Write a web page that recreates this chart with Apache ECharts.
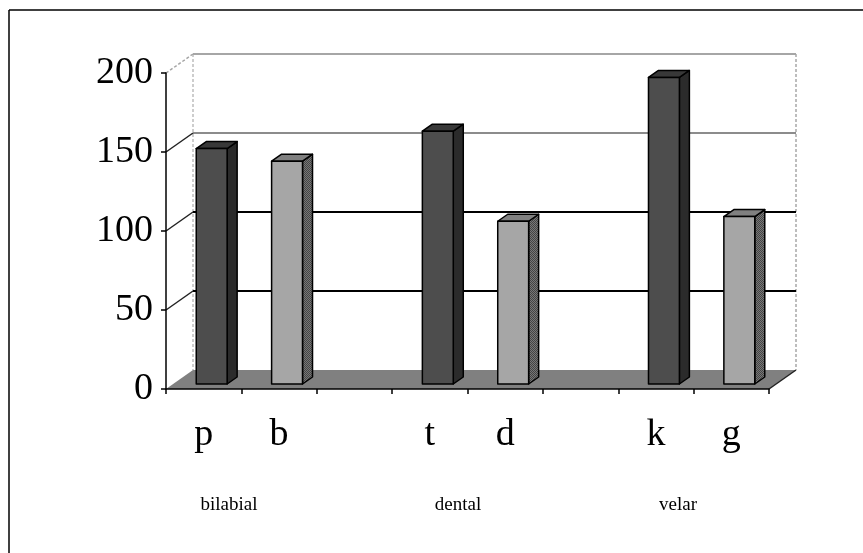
<!DOCTYPE html>
<html>
<head>
<meta charset="utf-8">
<style>
  html, body { margin: 0; padding: 0; background: #fff; }
  #chart { width: 863px; height: 553px; }
</style>
<script src="https://cdn.jsdelivr.net/npm/echarts@6/dist/echarts.min.js"></script>
</head>
<body>
<div id="chart"></div>
<script>
  // blank categories are the gaps between the three groups
  var categories = ['p', 'b', '', 't', 'd', '', 'k', 'g'];
  var voicelessIdx = [0, 3, 6];
  var voicelessVals = [149, 160, 194];
  var voicedIdx = [1, 4, 7];
  var voicedVals = [141, 103, 106];
  var yTicks = [0, 50, 100, 150, 200];
  var groupNames = ['bilabial', 'dental', 'velar'];

  var DX = 27, DY = -19;       // depth of the box
  var BAR_DX = 8, BAR_DY = -5; // bars stand a little behind the front edge
  var SIDE_DX = 10, SIDE_DY = -7;
  var FONT = '"Liberation Serif", serif';

  function dither(a, b) {
    var c = document.createElement('canvas');
    c.width = 2; c.height = 2;
    var g = c.getContext('2d');
    g.fillStyle = a; g.fillRect(0, 0, 2, 2);
    g.fillStyle = b; g.fillRect(0, 0, 1, 1); g.fillRect(1, 1, 1, 1);
    return c;
  }

  function line(x1, y1, x2, y2, color, width, dash) {
    return {
      type: 'line',
      shape: { x1: x1, y1: y1, x2: x2, y2: y2 },
      style: { stroke: color, lineWidth: width, lineDash: dash || null }
    };
  }

  function renderBox(params, api) {
    var v = api.value(1);
    var cs = params.coordSys;
    var y = api.coord([0, v])[1];
    var left = cs.x, right = cs.x + cs.width;
    var kids = [];
    if (v === 0) {
      kids.push({
        type: 'polygon',
        shape: { points: [[left, y], [left + DX, y + DY], [right + DX, y + DY], [right, y]] },
        style: { fill: '#808080' }
      });
      kids.push(line(right, y, right + DX, y + DY, '#222', 1.5));
      kids.push(line(left + DX, cs.y + DY, left + DX, y + DY, '#bdbdbd', 1.5, [3, 2]));
      kids.push(line(right + DX, cs.y + DY, right + DX, y + DY, '#a8a8a8', 1.5, [3, 2]));
    } else {
      var color = v === 200 ? '#a6a6a6' : v === 150 ? '#666' : '#000';
      var width = v === 200 ? 2 : v === 150 ? 1.5 : 2;
      kids.push(line(left + DX, y + DY, right + DX, y + DY, color, width));
      kids.push(line(left, y, left + DX, y + DY, v === 200 ? '#a6a6a6' : '#222', 1.5, v === 200 ? [3, 2] : null));
    }
    return { type: 'group', children: kids };
  }

  function barRenderer(front, top, side) {
    return function (params, api) {
      var base = api.coord([api.value(0), 0]);
      var head = api.coord([api.value(0), api.value(1)]);
      var w = api.size([1, 0])[0] * 0.41;
      var x0 = base[0] + BAR_DX - w / 2, x1 = x0 + w;
      var y0 = base[1] + BAR_DY, y1 = head[1] + BAR_DY;
      var border = { stroke: '#000', lineWidth: 1.5, lineJoin: 'round' };
      return {
        type: 'group',
        children: [
          {
            type: 'polygon',
            shape: { points: [[x1, y0], [x1 + SIDE_DX, y0 + SIDE_DY], [x1 + SIDE_DX, y1 + SIDE_DY], [x1, y1]] },
            style: Object.assign({ fill: side }, border)
          },
          {
            type: 'polygon',
            shape: { points: [[x0, y1], [x0 + SIDE_DX, y1 + SIDE_DY], [x1 + SIDE_DX, y1 + SIDE_DY], [x1, y1]] },
            style: Object.assign({ fill: top }, border)
          },
          {
            type: 'rect',
            shape: { x: x0, y: y1, width: w, height: y0 - y1 },
            style: Object.assign({ fill: front }, border)
          }
        ]
      };
    };
  }

  function pairs(idx, vals) {
    return idx.map(function (c, i) { return [c, vals[i]]; });
  }

  var option = {
    animation: false,
    backgroundColor: '#fff',
    grid: { left: 166, right: 94, top: 73, bottom: 164 },
    xAxis: {
      type: 'category',
      z: 5,
      data: categories,
      boundaryGap: true,
      axisLine: { lineStyle: { color: '#000', width: 1.5 } },
      axisTick: { show: true, length: 5, alignWithLabel: false, lineStyle: { color: '#000', width: 1.5 } },
      axisLabel: { interval: 0, margin: 27, color: '#000', fontFamily: FONT, fontSize: 38 },
      splitLine: { show: false }
    },
    yAxis: {
      type: 'value',
      z: 5,
      min: 0,
      max: 200,
      interval: 50,
      axisLine: { show: true, lineStyle: { color: '#000', width: 1.5 } },
      axisTick: { show: true, length: 5, lineStyle: { color: '#000', width: 1.5 } },
      axisLabel: { margin: 13, color: '#000', fontFamily: FONT, fontSize: 38 },
      splitLine: { show: false }
    },
    series: [
      {
        type: 'custom',
        z: 1,
        clip: false,
        silent: true,
        renderItem: renderBox,
        encode: { x: 0, y: 1 },
        data: yTicks.map(function (t) { return [0, t]; })
      },
      {
        type: 'custom',
        z: 3,
        clip: false,
        silent: true,
        renderItem: barRenderer('#4d4d4d', '#383838', '#2b2b2b'),
        encode: { x: 0, y: 1 },
        data: pairs(voicelessIdx, voicelessVals)
      },
      {
        type: 'custom',
        z: 3,
        clip: false,
        silent: true,
        renderItem: barRenderer('#a6a6a6', '#808080', { image: dither('#777', '#444'), repeat: 'repeat' }),
        encode: { x: 0, y: 1 },
        data: pairs(voicedIdx, voicedVals)
      }
    ],
    graphic: [
      // outer frame, only top and left are visible in the picture
      { type: 'line', shape: { x1: 9, y1: 10, x2: 863, y2: 10 }, style: { stroke: '#000', lineWidth: 1.5 } },
      { type: 'line', shape: { x1: 9, y1: 10, x2: 9, y2: 553 }, style: { stroke: '#000', lineWidth: 1.5 } },
      { type: 'text', x: 229, y: 505, style: { text: groupNames[0], fill: '#000', font: '19px ' + FONT, textAlign: 'center', textVerticalAlign: 'middle' } },
      { type: 'text', x: 458, y: 505, style: { text: groupNames[1], fill: '#000', font: '19px ' + FONT, textAlign: 'center', textVerticalAlign: 'middle' } },
      { type: 'text', x: 678, y: 505, style: { text: groupNames[2], fill: '#000', font: '19px ' + FONT, textAlign: 'center', textVerticalAlign: 'middle' } }
    ]
  };

  var c = echarts.init(document.getElementById('chart'), null, { renderer: 'canvas' });
  c.setOption(option);
</script>
</body>
</html>
